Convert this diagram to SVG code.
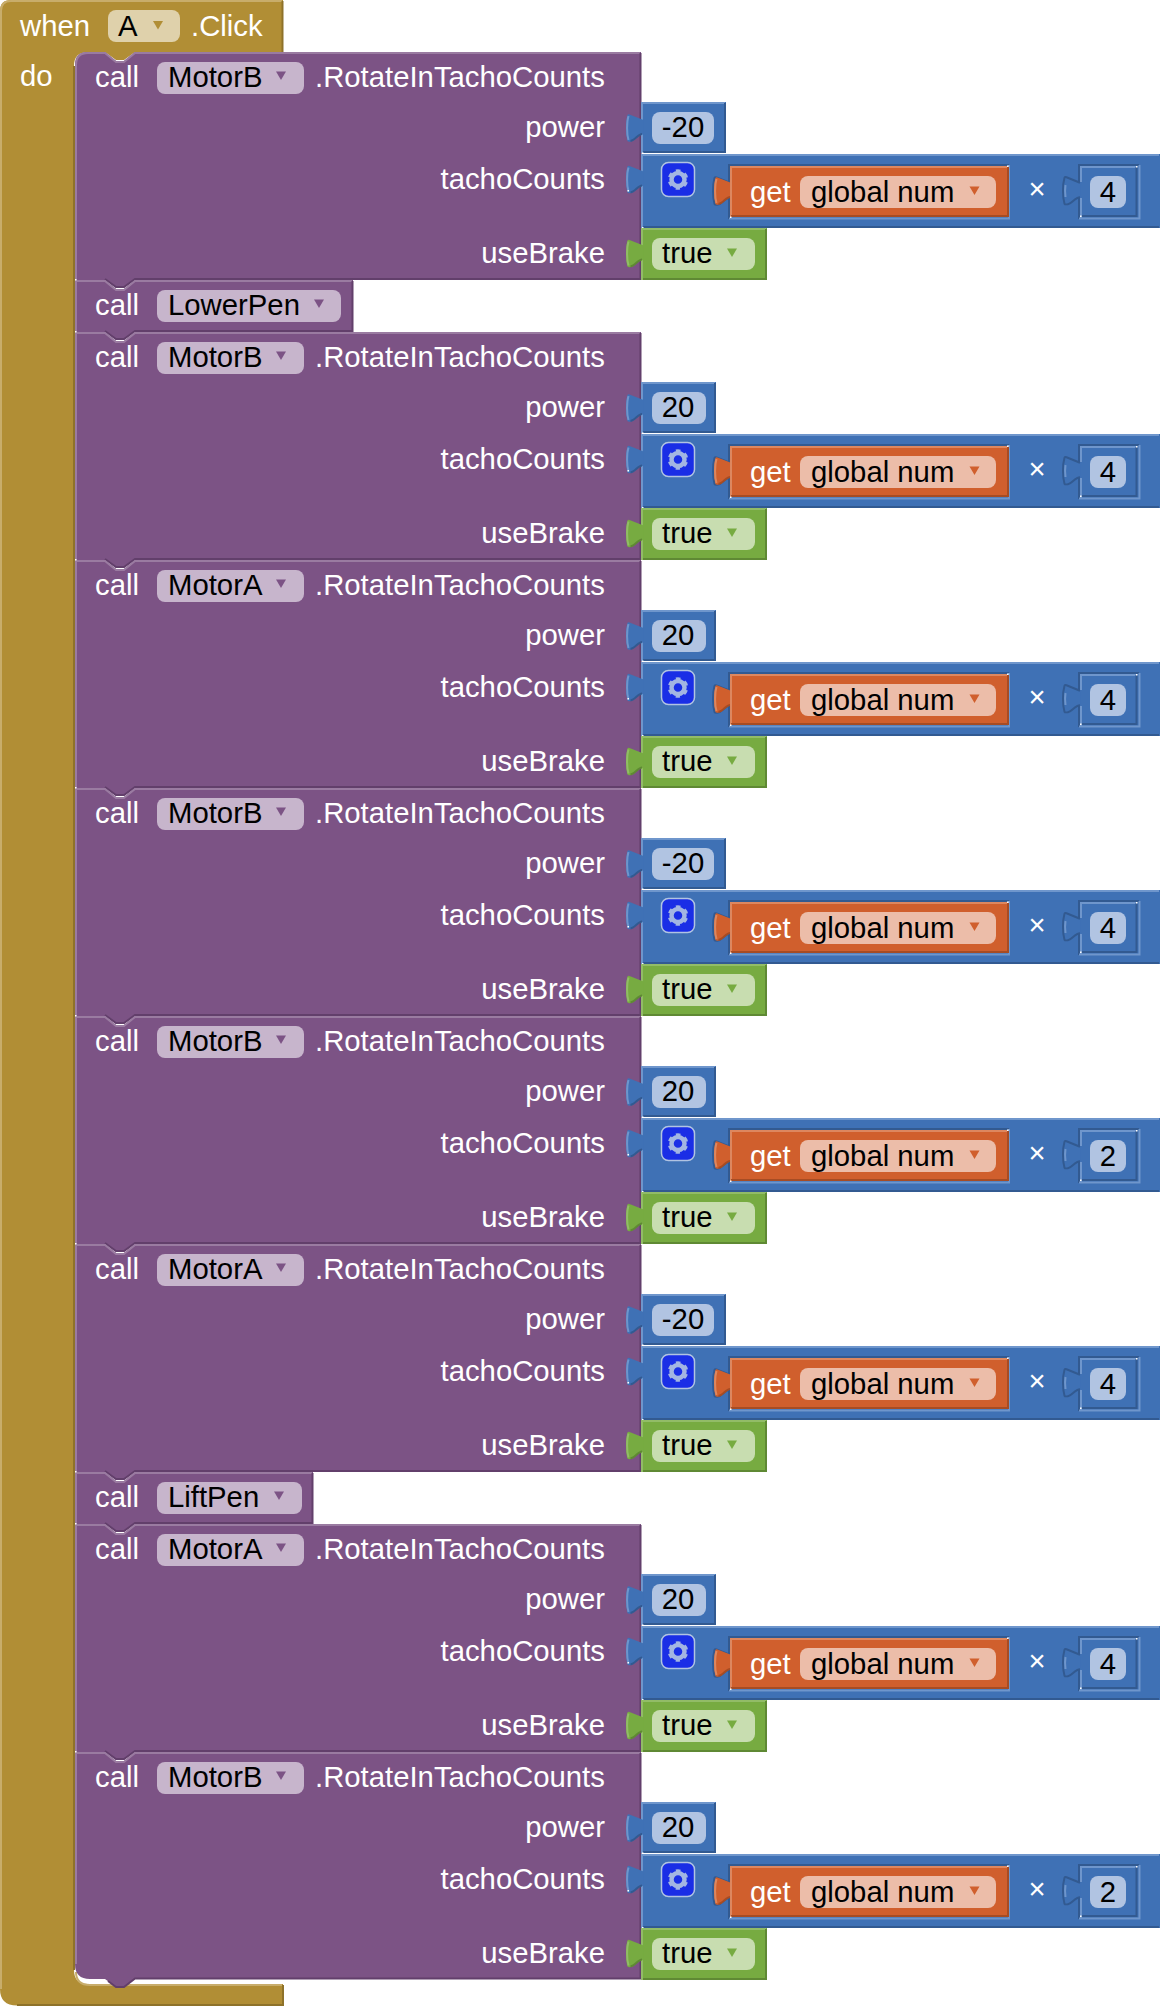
<svg xmlns="http://www.w3.org/2000/svg" xmlns:xlink="http://www.w3.org/1999/xlink" width="1160" height="2006" viewBox="0 0 1160 2006">
<style>
text{font-family:"Liberation Sans",Arial,sans-serif;font-size:29.300px;transform:translateY(.7px)}
.w{fill:#fff}.k{fill:#000}.r{text-anchor:end}.m{text-anchor:middle}
.hat{fill:#b18e35}.hl{fill:none;stroke:#c8ad6b;stroke-width:2}.hd{fill:none;stroke:#8e722a;stroke-width:2}
.pu{fill:#7c5385}.pl{fill:none;stroke:#9a7ba1;stroke-width:2}.pd{fill:none;stroke:#623f6b;stroke-width:2}
.bl{fill:#3f71b5}.bll{fill:none;stroke:#6f96cc;stroke-width:2}.bld{fill:none;stroke:#325a91;stroke-width:2}
.or{fill:#d05f2d}.orl{fill:none;stroke:#dd875f;stroke-width:2}.ord{fill:none;stroke:#a64c24;stroke-width:2}
.gr{fill:#77ab41}.grl{fill:none;stroke:#92bc67;stroke-width:2}.grd{fill:none;stroke:#5f8934;stroke-width:2}
.fh{fill:#dfd1ab}.fp{fill:#c7b5cc}.fb{fill:#b1c4e2}.fo{fill:#ecbda9}.fg{fill:#c8ddb0}
.dot{fill:#fff}
</style>
<defs>
<path id="tabF" d="M18.500,-8 L4.500,-13.500 Q3,-14 2.500,-13 C0.500,-6 0.500,6 2.500,13 Q3,14 6,13.500 C10,13 13,6.500 18.500,6.500 Z"/>
<path id="tabL" d="M3.500,-12 C1.600,-6 1.600,6 3.500,12"/>
<path id="tabD" d="M5.500,13 C10,12.500 13,6 17,6"/>
<g id="tabBlue"><use href="#tabF" class="bl"/><use href="#tabL" class="bll"/><use href="#tabD" class="bld"/></g>
<g id="tabGreen"><use href="#tabF" class="gr"/><use href="#tabL" class="grl"/><use href="#tabD" class="grd"/></g>
<g id="tabOrange"><use href="#tabF" class="or"/><use href="#tabL" class="orl"/><use href="#tabD" class="ord"/></g>
<g id="callShape">
<path class="pu" d="M75,0 H105 L116,9 H124 L135,0 H641 V228 H135 L124,236 H116 L105,228 H75 Z"/>
<path class="pl" d="M76,228 V1 H105 L116,10 H124 L135,1 H640"/>
<path class="pd" d="M640.500,1 V227 H135 L124,235 H116 L105,227"/>
<rect class="dot" x="75" y="-1" width="1.500" height="1.500"/>
</g>
<g id="inputTabs">
<use href="#tabBlue" x="625" y="76"/>
<use href="#tabBlue" x="625" y="127.500"/>
<use href="#tabGreen" x="625" y="201.500"/>
<rect class="dot" x="627.500" y="138" width="1.500" height="1.500"/>
<rect class="dot" x="642" y="100.500" width="1.500" height="1.500"/>
</g>
<g id="pNeg">
<rect class="bl" x="641" y="50" width="85" height="51"/>
<path class="bll" d="M642,101 V51 H725"/><path class="bld" d="M725,51 V100 H643"/>
<rect class="fb" x="652" y="60" width="62" height="32" rx="8"/>
</g>
<g id="pPos">
<rect class="bl" x="641" y="50" width="75" height="51"/>
<path class="bll" d="M642,101 V51 H715"/><path class="bld" d="M715,51 V100 H643"/>
<rect class="fb" x="652" y="60" width="54" height="32" rx="8"/>
</g>
<g id="rest">
<rect class="bl" x="641" y="102" width="519" height="74"/>
<path class="bll" d="M642,176 V103 H1159"/><path class="bld" d="M643,175 H1159"/>
<rect x="661.500" y="110.500" width="33" height="34" rx="7" fill="#1a2ee6" stroke="#b1c4e2" stroke-width="1.500"/>
<circle cx="678" cy="127.500" r="6.500" fill="none" stroke="#a3b6e2" stroke-width="4.500"/>
<circle cx="678" cy="127.500" r="8.500" fill="none" stroke="#a3b6e2" stroke-width="3.500" stroke-dasharray="4.400 4.500" stroke-dashoffset="2.200" transform="rotate(90 678 127.500)"/>
<path class="bld" d="M729,167 V113 H1009"/><path class="bll" d="M729,166.500 H1009 V113"/>
<use href="#tabF" x="712" y="139" class="bld"/>
<use href="#tabOrange" x="713" y="139"/>
<rect class="or" x="730" y="114" width="278" height="51"/>
<path class="orl" d="M731,165 V115 H1008"/><path class="ord" d="M731,164 H1008 V115"/>
<rect class="dot" x="730" y="164.500" width="1.500" height="1.500"/>
<rect class="dot" x="1007" y="113.500" width="1.500" height="1.500"/>
<rect class="fo" x="800" y="124" width="196" height="32" rx="8"/>
<path class="or" d="M969.500,134.500 H979.500 L974.500,143 Z"/>
<path class="bld" d="M1079,167 V113 H1139"/><path class="bll" d="M1079,166.500 H1139.500 V113"/>
<use href="#tabF" x="1062" y="138.700" class="bl"/>
<path d="M1080,130.700 L1066.500,125.200 Q1065,124.700 1064.500,125.700 C1062.500,132.700 1062.500,144.700 1064.500,151.700 Q1065,152.700 1068,152.200 C1072,151.700 1075,145.200 1080,145.200" class="bld"/>
<path d="M1065.500,133 C1065,136 1065,141 1065.500,145" class="bll"/>
<path class="bll" d="M1081,166 V146 M1081,130 V115 H1136"/><path class="bld" d="M1136.500,115 V164 H1082"/>
<rect class="dot" x="1080" y="163.500" width="1.500" height="1.500"/>
<rect class="dot" x="1136" y="114" width="1.500" height="1.500"/>
<rect class="fb" x="1090" y="124" width="36" height="32" rx="8"/>
<rect class="dot" x="642" y="175" width="1.500" height="1.500"/>
</g>
<g id="trueBlock">
<rect class="gr" x="641" y="176" width="126" height="52"/>
<path class="grl" d="M642,228 V177 H766"/><path class="grd" d="M766,177 V227 H643"/>
<rect class="fg" x="652" y="186" width="103" height="32" rx="8"/>
<path class="gr" d="M727,196.500 H737 L732,205 Z"/>
</g>
<g id="fArrow"><path d="M276,19.500 H286 L281,28 Z" fill="#7c5385"/></g>
</defs>

<g id="hat-when">
<path class="hat" d="M0,11 Q0,0 11,0 H283 V52 H135 L124,60 H116 L105,52 H88 Q74,52 74,66 V1970 Q74,1984 88,1984 H283 V2005.500 H17 Q0,2005.500 0,1989 Z"/>
<path class="hl" d="M1,1989 V11 Q1,1 11,1 H282"/>
<path class="hd" d="M282.500,1 V52"/>
<path class="hd" d="M74,66 V1970"/>
<path class="hl" d="M76,1972 Q76,1985 90,1985 H282"/>
<path class="hd" d="M283,1985 V2005 H17"/>
<text class="w" x="20" y="35">when</text>
<rect class="fh" x="108" y="10" width="72" height="32" rx="8"/>
<text class="k" x="118" y="35">A</text>
<path d="M153,21 H163 L158,29.500 Z" fill="#b18e35"/>
<text class="w" x="191" y="35">.Click</text>
<text class="w" x="20" y="85">do</text>
</g>

<g id="call1" transform="translate(0,52)">
<path class="pu" d="M88,0 H105 L116,9 H124 L135,0 H641 V228 H135 L124,236 H116 L105,228 H75 V13 Q75,0 88,0 Z"/>
<path class="pl" d="M76,228 V13 Q76,1 88,1 H105 L116,10 H124 L135,1 H640"/>
<path class="pd" d="M640.500,1 V227 H135 L124,235 H116 L105,227"/>
<use href="#pNeg"/><use href="#rest"/><use href="#trueBlock"/><use href="#inputTabs"/>
<text class="w" x="95" y="34">call</text><rect class="fp" x="157" y="10" width="147" height="32" rx="8"/><text class="k" x="168" y="34">MotorB</text><use href="#fArrow"/><text class="w" x="315" y="34">.RotateInTachoCounts</text>
<text class="w r" x="605" y="84">power</text><text class="w r" x="605" y="136">tachoCounts</text><text class="w r" x="605" y="210">useBrake</text>
<text class="k m" x="683" y="84">-20</text><text class="w" x="750" y="149">get</text><text class="k" x="811" y="149">global num</text><text class="w m" x="1037" y="146">×</text><text class="k m" x="1108" y="149">4</text><text class="k" x="662" y="210">true</text>
</g>

<g id="call-lowerpen" transform="translate(0,280)">
<path class="pu" d="M75,0 H105 L116,9 H124 L135,0 H353 V52 H135 L124,60 H116 L105,52 H75 Z"/>
<path class="pl" d="M76,52 V1 H105 L116,10 H124 L135,1 H352"/>
<path class="pd" d="M352.500,1 V51 H135 L124,59 H116 L105,51"/>
<rect class="dot" x="75" y="-1" width="1.500" height="1.500"/>
<text class="w" x="95" y="34">call</text><rect class="fp" x="157" y="10" width="184" height="32" rx="8"/><text class="k" x="168" y="34">LowerPen</text><path d="M314,19.500 H324 L319,28 Z" fill="#7c5385"/>
</g>

<g id="call2" transform="translate(0,332)">
<use href="#callShape"/><use href="#pPos"/><use href="#rest"/><use href="#trueBlock"/><use href="#inputTabs"/>
<text class="w" x="95" y="34">call</text><rect class="fp" x="157" y="10" width="147" height="32" rx="8"/><text class="k" x="168" y="34">MotorB</text><use href="#fArrow"/><text class="w" x="315" y="34">.RotateInTachoCounts</text>
<text class="w r" x="605" y="84">power</text><text class="w r" x="605" y="136">tachoCounts</text><text class="w r" x="605" y="210">useBrake</text>
<text class="k m" x="678" y="84">20</text><text class="w" x="750" y="149">get</text><text class="k" x="811" y="149">global num</text><text class="w m" x="1037" y="146">×</text><text class="k m" x="1108" y="149">4</text><text class="k" x="662" y="210">true</text>
</g>

<g id="call3" transform="translate(0,560)">
<use href="#callShape"/><use href="#pPos"/><use href="#rest"/><use href="#trueBlock"/><use href="#inputTabs"/>
<text class="w" x="95" y="34">call</text><rect class="fp" x="157" y="10" width="147" height="32" rx="8"/><text class="k" x="168" y="34">MotorA</text><use href="#fArrow"/><text class="w" x="315" y="34">.RotateInTachoCounts</text>
<text class="w r" x="605" y="84">power</text><text class="w r" x="605" y="136">tachoCounts</text><text class="w r" x="605" y="210">useBrake</text>
<text class="k m" x="678" y="84">20</text><text class="w" x="750" y="149">get</text><text class="k" x="811" y="149">global num</text><text class="w m" x="1037" y="146">×</text><text class="k m" x="1108" y="149">4</text><text class="k" x="662" y="210">true</text>
</g>

<g id="call4" transform="translate(0,788)">
<use href="#callShape"/><use href="#pNeg"/><use href="#rest"/><use href="#trueBlock"/><use href="#inputTabs"/>
<text class="w" x="95" y="34">call</text><rect class="fp" x="157" y="10" width="147" height="32" rx="8"/><text class="k" x="168" y="34">MotorB</text><use href="#fArrow"/><text class="w" x="315" y="34">.RotateInTachoCounts</text>
<text class="w r" x="605" y="84">power</text><text class="w r" x="605" y="136">tachoCounts</text><text class="w r" x="605" y="210">useBrake</text>
<text class="k m" x="683" y="84">-20</text><text class="w" x="750" y="149">get</text><text class="k" x="811" y="149">global num</text><text class="w m" x="1037" y="146">×</text><text class="k m" x="1108" y="149">4</text><text class="k" x="662" y="210">true</text>
</g>

<g id="call5" transform="translate(0,1016)">
<use href="#callShape"/><use href="#pPos"/><use href="#rest"/><use href="#trueBlock"/><use href="#inputTabs"/>
<text class="w" x="95" y="34">call</text><rect class="fp" x="157" y="10" width="147" height="32" rx="8"/><text class="k" x="168" y="34">MotorB</text><use href="#fArrow"/><text class="w" x="315" y="34">.RotateInTachoCounts</text>
<text class="w r" x="605" y="84">power</text><text class="w r" x="605" y="136">tachoCounts</text><text class="w r" x="605" y="210">useBrake</text>
<text class="k m" x="678" y="84">20</text><text class="w" x="750" y="149">get</text><text class="k" x="811" y="149">global num</text><text class="w m" x="1037" y="146">×</text><text class="k m" x="1108" y="149">2</text><text class="k" x="662" y="210">true</text>
</g>

<g id="call6" transform="translate(0,1244)">
<use href="#callShape"/><use href="#pNeg"/><use href="#rest"/><use href="#trueBlock"/><use href="#inputTabs"/>
<text class="w" x="95" y="34">call</text><rect class="fp" x="157" y="10" width="147" height="32" rx="8"/><text class="k" x="168" y="34">MotorA</text><use href="#fArrow"/><text class="w" x="315" y="34">.RotateInTachoCounts</text>
<text class="w r" x="605" y="84">power</text><text class="w r" x="605" y="136">tachoCounts</text><text class="w r" x="605" y="210">useBrake</text>
<text class="k m" x="683" y="84">-20</text><text class="w" x="750" y="149">get</text><text class="k" x="811" y="149">global num</text><text class="w m" x="1037" y="146">×</text><text class="k m" x="1108" y="149">4</text><text class="k" x="662" y="210">true</text>
</g>

<g id="call-liftpen" transform="translate(0,1472)">
<path class="pu" d="M75,0 H105 L116,9 H124 L135,0 H313 V52 H135 L124,60 H116 L105,52 H75 Z"/>
<path class="pl" d="M76,52 V1 H105 L116,10 H124 L135,1 H312"/>
<path class="pd" d="M312.500,1 V51 H135 L124,59 H116 L105,51"/>
<rect class="dot" x="75" y="-1" width="1.500" height="1.500"/>
<text class="w" x="95" y="34">call</text><rect class="fp" x="157" y="10" width="145" height="32" rx="8"/><text class="k" x="168" y="34">LiftPen</text><path d="M274,19.500 H284 L279,28 Z" fill="#7c5385"/>
</g>

<g id="call7" transform="translate(0,1524)">
<use href="#callShape"/><use href="#pPos"/><use href="#rest"/><use href="#trueBlock"/><use href="#inputTabs"/>
<text class="w" x="95" y="34">call</text><rect class="fp" x="157" y="10" width="147" height="32" rx="8"/><text class="k" x="168" y="34">MotorA</text><use href="#fArrow"/><text class="w" x="315" y="34">.RotateInTachoCounts</text>
<text class="w r" x="605" y="84">power</text><text class="w r" x="605" y="136">tachoCounts</text><text class="w r" x="605" y="210">useBrake</text>
<text class="k m" x="678" y="84">20</text><text class="w" x="750" y="149">get</text><text class="k" x="811" y="149">global num</text><text class="w m" x="1037" y="146">×</text><text class="k m" x="1108" y="149">4</text><text class="k" x="662" y="210">true</text>
</g>

<g id="call8" transform="translate(0,1752)">
<path class="pu" d="M75,0 H105 L116,9 H124 L135,0 H641 V227 H135 L124,235 H116 L105,227 H90 Q75,227 75,212 Z"/>
<path class="pl" d="M76,212 V1 H105 L116,10 H124 L135,1 H640"/>
<path class="pd" d="M640.500,1 V226.500 H135 L124,235 H116 L108,229"/>
<rect class="dot" x="75" y="-1" width="1.500" height="1.500"/>
<use href="#pPos"/><use href="#rest"/><use href="#trueBlock"/><use href="#inputTabs"/>
<text class="w" x="95" y="34">call</text><rect class="fp" x="157" y="10" width="147" height="32" rx="8"/><text class="k" x="168" y="34">MotorB</text><use href="#fArrow"/><text class="w" x="315" y="34">.RotateInTachoCounts</text>
<text class="w r" x="605" y="84">power</text><text class="w r" x="605" y="136">tachoCounts</text><text class="w r" x="605" y="210">useBrake</text>
<text class="k m" x="678" y="84">20</text><text class="w" x="750" y="149">get</text><text class="k" x="811" y="149">global num</text><text class="w m" x="1037" y="146">×</text><text class="k m" x="1108" y="149">2</text><text class="k" x="662" y="210">true</text>
</g>

<g id="connectors"></g>
</svg>
